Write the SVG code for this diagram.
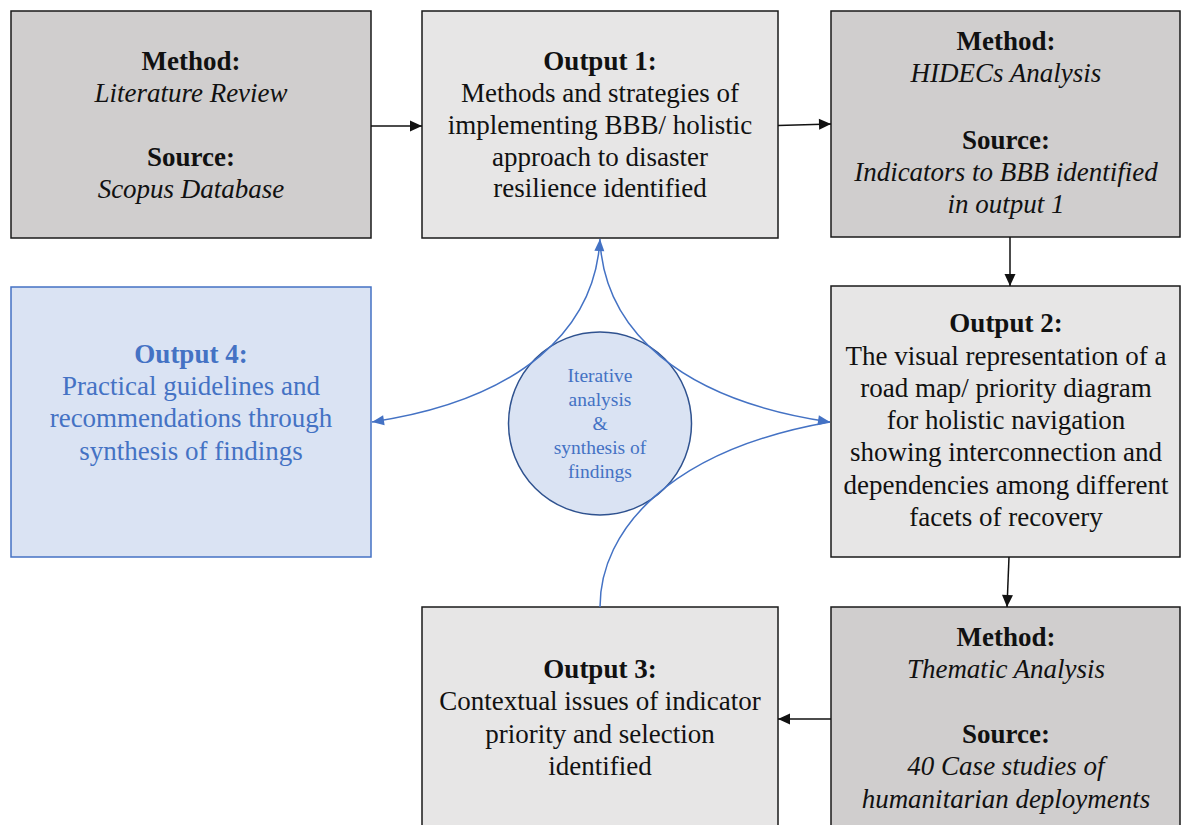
<svg xmlns="http://www.w3.org/2000/svg" width="1182" height="825" viewBox="0 0 1182 825">
<style>
.t{font-family:"Liberation Serif","Times New Roman",serif;font-size:27px;fill:#111;text-anchor:middle}
.b{font-weight:bold}
.i{font-style:italic}
.blue{fill:#4472c4}
.grey{fill:#d0cece;stroke:#1a1a1a;stroke-width:1.5}
.light{fill:#e7e6e6;stroke:#1a1a1a;stroke-width:1.5}
.bluebox{fill:#dae3f3;stroke:#4472c4;stroke-width:1.5}
.k{stroke:#111;stroke-width:1.5;fill:none}
.bl{stroke:#4472c4;stroke-width:1.5;fill:none}
.c{font-family:"Liberation Serif","Times New Roman",serif;font-size:19.5px;fill:#4472c4;text-anchor:middle}
</style>
<defs>
<marker id="ak" markerUnits="userSpaceOnUse" markerWidth="14" markerHeight="14" viewBox="0 0 14 14" refX="13" refY="7" orient="auto"><path d="M1,1.5 L13,7 L1,12.5 Z" fill="#111"/></marker>
<marker id="ab" markerUnits="userSpaceOnUse" markerWidth="14" markerHeight="14" viewBox="0 0 14 14" refX="13" refY="7" orient="auto-start-reverse"><path d="M1,2 L13,7 L1,12 Z" fill="#4472c4"/></marker>
</defs>
<rect width="1182" height="825" fill="#fff"/>

<g id="method1">
<rect class="grey" x="11" y="11" width="360" height="227"/>
<text class="t b" x="191" y="70">Method:</text>
<text class="t i" x="191" y="102">Literature Review</text>
<text class="t b" x="191" y="166">Source:</text>
<text class="t i" x="191" y="198">Scopus Database</text>
</g>

<g id="output1">
<rect class="light" x="422" y="11" width="356" height="227"/>
<text class="t b" x="600" y="70">Output 1:</text>
<text class="t" x="600" y="102">Methods and strategies of</text>
<text class="t" x="600" y="134">implementing BBB/ holistic</text>
<text class="t" x="600" y="166">approach to disaster</text>
<text class="t" x="600" y="197">resilience identified</text>
</g>

<g id="method2">
<rect class="grey" x="831" y="11" width="349" height="226"/>
<text class="t b" x="1006" y="50">Method:</text>
<text class="t i" x="1006" y="82">HIDECs Analysis</text>
<text class="t b" x="1006" y="149">Source:</text>
<text class="t i" x="1006" y="181">Indicators to BBB identified</text>
<text class="t i" x="1006" y="213">in output 1</text>
</g>

<g id="output2">
<rect class="light" x="831" y="286" width="349" height="271"/>
<text class="t b" x="1006" y="332">Output 2:</text>
<text class="t" x="1006" y="365">The visual representation of a</text>
<text class="t" x="1006" y="397">road map/ priority diagram</text>
<text class="t" x="1006" y="429">for holistic navigation</text>
<text class="t" x="1006" y="461">showing interconnection and</text>
<text class="t" x="1006" y="494">dependencies among different</text>
<text class="t" x="1006" y="526">facets of recovery</text>
</g>

<g id="method3">
<rect class="grey" x="831" y="607" width="349" height="230"/>
<text class="t b" x="1006" y="646">Method:</text>
<text class="t i" x="1006" y="678">Thematic Analysis</text>
<text class="t b" x="1006" y="743">Source:</text>
<text class="t i" x="1006" y="775">40 Case studies of</text>
<text class="t i" x="1006" y="808">humanitarian deployments</text>
</g>

<g id="output3">
<rect class="light" x="422" y="607" width="356" height="230"/>
<text class="t b" x="600" y="678">Output 3:</text>
<text class="t" x="600" y="710">Contextual issues of indicator</text>
<text class="t" x="600" y="743">priority and selection</text>
<text class="t" x="600" y="775">identified</text>
</g>

<g id="output4">
<rect class="bluebox" x="11" y="287" width="360" height="270"/>
<text class="t b blue" x="191" y="363">Output 4:</text>
<text class="t blue" x="191" y="395">Practical guidelines and</text>
<text class="t blue" x="191" y="427">recommendations through</text>
<text class="t blue" x="191" y="460">synthesis of findings</text>
</g>

<g id="center">
<circle cx="600" cy="423.5" r="91.5" fill="#dae3f3" stroke="#2f528f" stroke-width="1.5"/>
<text class="c" x="600" y="382">Iterative</text>
<text class="c" x="600" y="406">analysis</text>
<text class="c" x="600" y="430">&amp;</text>
<text class="c" x="600" y="454">synthesis of</text>
<text class="c" x="600" y="478">findings</text>
</g>

<g id="connectors">
<line class="k" x1="371" y1="126" x2="422" y2="126" marker-end="url(#ak)"/>
<line class="k" x1="778" y1="125.5" x2="831" y2="124" marker-end="url(#ak)"/>
<line class="k" x1="1010" y1="237" x2="1010" y2="286" marker-end="url(#ak)"/>
<line class="k" x1="1009" y1="557" x2="1007" y2="607" marker-end="url(#ak)"/>
<line class="k" x1="831" y1="719" x2="778" y2="719" marker-end="url(#ak)"/>
<path class="bl" d="M600,239 C595,330 520,400 372,422" marker-start="url(#ab)" marker-end="url(#ab)"/>
<path class="bl" d="M600,241 C605,330 680,400 830,422" marker-end="url(#ab)"/>
<path class="bl" d="M600,607 C600,530 670,450 830,422"/>
</g>
</svg>
